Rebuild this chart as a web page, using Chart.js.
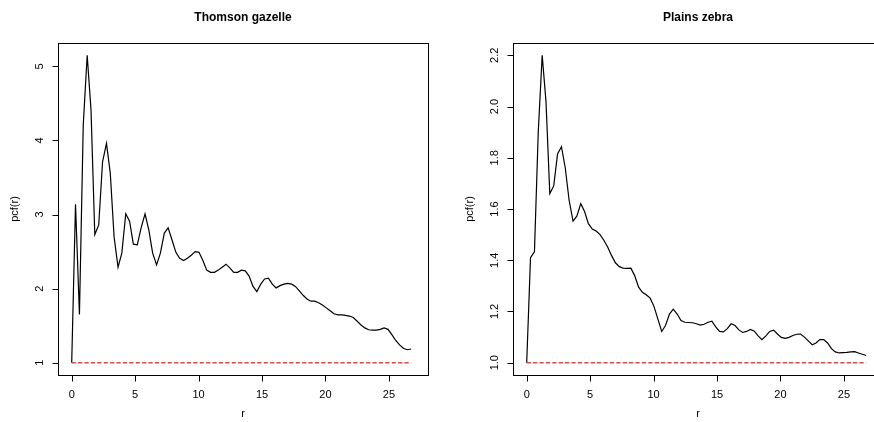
<!DOCTYPE html>
<html>
<head>
<meta charset="utf-8">
<script src="https://cdn.jsdelivr.net/npm/chart.js@4.4.0/dist/chart.umd.min.js"></script>
<style>
  html, body { margin: 0; padding: 0; background: #fff; overflow: hidden; width: 874px; height: 422px; }
  .panel { position: absolute; top: 0; height: 422px; }
</style>
</head>
<body>
<div class="panel" style="left:0;width:437px"><canvas id="gazelle" width="437" height="422"></canvas></div>
<div class="panel" style="left:437px;width:460px"><canvas id="zebra" width="460" height="422"></canvas></div>
<script>
let r = [0, 0.30, 0.61, 0.91, 1.22, 1.52, 1.82, 2.13, 2.43, 2.74,
    3.04, 3.34, 3.65, 3.95, 4.26, 4.56, 4.86, 5.17, 5.47, 5.78,
    6.08, 6.38, 6.69, 6.99, 7.30, 7.60, 7.90, 8.21, 8.51, 8.82,
    9.12, 9.42, 9.73, 10.03, 10.34, 10.64, 10.94, 11.25, 11.55, 11.86,
    12.16, 12.46, 12.77, 13.07, 13.38, 13.68, 13.98, 14.29, 14.59, 14.90,
    15.20, 15.50, 15.81, 16.11, 16.42, 16.72, 17.02, 17.33, 17.63, 17.94,
    18.24, 18.54, 18.85, 19.15, 19.46, 19.76, 20.06, 20.37, 20.67, 20.98,
    21.28, 21.58, 21.89, 22.19, 22.50, 22.80, 23.10, 23.41, 23.71, 24.02,
    24.32, 24.62, 24.93, 25.23, 25.54, 25.84, 26.14, 26.45, 26.75];

let gazellePcf = [1.00, 3.14, 1.65, 4.21, 5.15, 4.42, 2.73, 2.86, 3.71, 3.96,
    3.56, 2.70, 2.29, 2.48, 3.01, 2.91, 2.60, 2.59, 2.82, 3.01,
    2.79, 2.48, 2.32, 2.48, 2.75, 2.82, 2.66, 2.49, 2.41, 2.38,
    2.41, 2.45, 2.50, 2.49, 2.38, 2.25, 2.22, 2.22, 2.25, 2.29,
    2.33, 2.28, 2.22, 2.22, 2.25, 2.24, 2.17, 2.03, 1.96, 2.06,
    2.13, 2.14, 2.06, 2.01, 2.04, 2.06, 2.07, 2.06, 2.03, 1.97,
    1.91, 1.86, 1.83, 1.83, 1.81, 1.78, 1.74, 1.70, 1.66, 1.645,
    1.645, 1.64, 1.63, 1.61, 1.56, 1.51, 1.47, 1.445, 1.44, 1.44,
    1.45, 1.47, 1.45, 1.38, 1.30, 1.24, 1.195, 1.175, 1.185];

let zebraPcf = [1.00, 1.41, 1.433, 1.90, 2.20, 2.02, 1.66, 1.69, 1.815, 1.843,
    1.76, 1.635, 1.553, 1.572, 1.621, 1.59, 1.543, 1.522, 1.514, 1.50,
    1.478, 1.452, 1.418, 1.39, 1.375, 1.369, 1.368, 1.369, 1.34, 1.295,
    1.275, 1.265, 1.252, 1.22, 1.17, 1.122, 1.145, 1.19, 1.209, 1.19,
    1.165, 1.158, 1.157, 1.156, 1.152, 1.147, 1.150, 1.158, 1.162, 1.14,
    1.122, 1.12, 1.133, 1.152, 1.145, 1.128, 1.118, 1.122, 1.13, 1.123,
    1.105, 1.09, 1.105, 1.122, 1.127, 1.112, 1.099, 1.095, 1.099, 1.106,
    1.111, 1.112, 1.10, 1.085, 1.07, 1.077, 1.09, 1.09, 1.077, 1.055,
    1.042, 1.038, 1.039, 1.040, 1.042, 1.043, 1.038, 1.033, 1.028];

let xTicks = [0, 5, 10, 15, 20, 25];
let gazelleTicks = [1, 2, 3, 4, 5];
let zebraTicks = [1.0, 1.2, 1.4, 1.6, 1.8, 2.0, 2.2];

let font = '"Liberation Sans", Arial, Helvetica, sans-serif';

// R-style frame, ticks and labels drawn with the chart's own scales
let rAxes = {
    id: 'rAxes',
    afterDraw(chart, args, opts) {
        let ctx = chart.ctx;
        let area = chart.chartArea;
        let xs = chart.scales.x;
        let ys = chart.scales.y;
        ctx.save();
        ctx.strokeStyle = '#000';
        ctx.fillStyle = '#000';
        ctx.lineWidth = 1;
        ctx.strokeRect(Math.round(area.left) + 0.5, Math.round(area.top) + 0.5,
            Math.round(area.right - area.left), Math.round(area.bottom - area.top));

        // x axis
        let bottom = Math.round(area.bottom) + 0.5;
        ctx.beginPath();
        ctx.moveTo(xs.getPixelForValue(xTicks[0]), bottom);
        ctx.lineTo(xs.getPixelForValue(xTicks[xTicks.length - 1]), bottom);
        xTicks.forEach(t => {
            let px = Math.round(xs.getPixelForValue(t)) + 0.5;
            ctx.moveTo(px, bottom);
            ctx.lineTo(px, bottom + 6);
        });
        ctx.stroke();
        ctx.font = '11px ' + font;
        ctx.textAlign = 'center';
        ctx.textBaseline = 'middle';
        xTicks.forEach(t => {
            ctx.fillText(String(t), xs.getPixelForValue(t), area.bottom + 20);
        });
        ctx.fillText('r', (area.left + area.right) / 2, area.bottom + 39);

        // y axis
        let left = Math.round(area.left) + 0.5;
        ctx.beginPath();
        ctx.moveTo(left, ys.getPixelForValue(opts.ticks[0]));
        ctx.lineTo(left, ys.getPixelForValue(opts.ticks[opts.ticks.length - 1]));
        opts.ticks.forEach(t => {
            let py = Math.round(ys.getPixelForValue(t)) + 0.5;
            ctx.moveTo(left, py);
            ctx.lineTo(left - 6, py);
        });
        ctx.stroke();
        opts.ticks.forEach(t => {
            ctx.save();
            ctx.translate(area.left - 18, ys.getPixelForValue(t));
            ctx.rotate(-Math.PI / 2);
            ctx.fillText(t.toFixed(opts.digits), 0, 0);
            ctx.restore();
        });
        ctx.save();
        ctx.translate(area.left - 43, (area.top + area.bottom) / 2);
        ctx.rotate(-Math.PI / 2);
        ctx.fillText('pcf(r)', 0, 0);
        ctx.restore();

        // title
        ctx.font = 'bold 12px ' + font;
        ctx.fillText(opts.title, (area.left + area.right) / 2, 18);
        ctx.restore();
    }
};

function makeChart(canvas, values, ticks, digits, title, yMin, yMax, padding) {
    let points = r.map((v, i) => ({ x: v, y: values[i] }));
    return new Chart(canvas, {
        type: 'line',
        data: {
            datasets: [
                {
                    data: [{ x: 0, y: 1 }, { x: r[r.length - 1], y: 1 }],
                    borderColor: '#ff3a3a',
                    borderWidth: 1.6,
                    borderDash: [4.2, 2.2],
                    pointRadius: 0
                },
                {
                    data: points,
                    borderColor: '#000',
                    borderWidth: 1.2,
                    pointRadius: 0,
                    tension: 0
                }
            ]
        },
        options: {
            responsive: false,
            animation: false,
            events: [],
            layout: { padding: padding },
            plugins: {
                legend: { display: false },
                tooltip: { enabled: false },
                rAxes: { ticks: ticks, digits: digits, title: title }
            },
            scales: {
                x: { type: 'linear', min: -1.08, max: 28.08, display: false },
                y: { type: 'linear', min: yMin, max: yMax, display: false }
            }
        },
        plugins: [rAxes]
    });
}

let gazelleChart = makeChart(document.getElementById('gazelle'), gazellePcf, gazelleTicks, 0,
    'Thomson gazelle', 0.834, 5.316, { left: 58, right: 9, top: 43, bottom: 47 });
let zebraChart = makeChart(document.getElementById('zebra'), zebraPcf, zebraTicks, 1,
    'Plains zebra', 0.952, 2.248, { left: 76, right: 14, top: 43, bottom: 47 });
</script>
</body>
</html>
